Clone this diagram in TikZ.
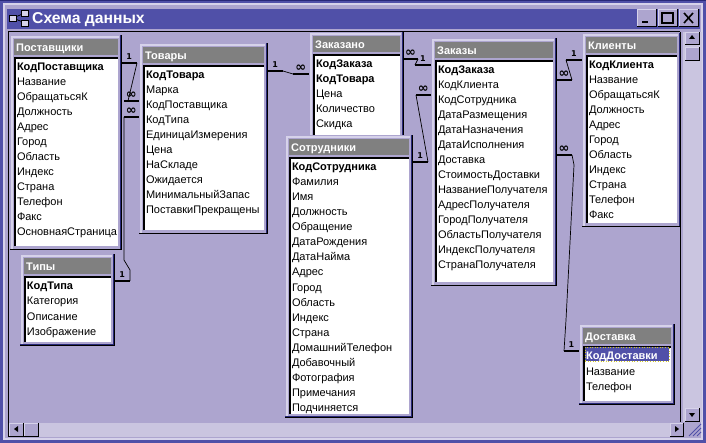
\documentclass[tikz,border=0pt]{standalone}
\usepackage{fontspec}
\setmainfont{Liberation Sans}
\newfontfamily\relfont{DejaVu Sans}
\usetikzlibrary{fit}
\definecolor{winblue}{HTML}{5050A8}
\definecolor{windark}{HTML}{282878}
\definecolor{body}{HTML}{ADA5CF}
\definecolor{edgelight}{HTML}{D6D2EA}
\definecolor{dither}{HTML}{CAC5E0}
\definecolor{headgrey}{HTML}{808080}
\tikzset{
  tableframe/.style={fill=body,inner sep=0pt,draw=none},
  tablehead/.style={fill=headgrey,inner sep=0pt,draw=none},
  tablelist/.style={fill=white,inner sep=0pt,draw=none},
  headtext/.style={anchor=base west,inner sep=0pt,text=white,font=\fontsize{11}{12}\selectfont\bfseries},
  rowtext/.style={anchor=base west,inner sep=0pt,text=black,font=\fontsize{11}{12}\selectfont},
  stub/.style={line width=2.2pt,black},
  link/.style={line width=0.7pt,black},
  endone/.style={above=2.5pt,inner sep=0pt,font=\relfont\fontsize{8}{9}\selectfont\bfseries},
  endmany/.style={above=1pt,inner sep=0pt,font=\relfont\fontsize{13}{14}\selectfont\bfseries},
  winbutton/.style={fill=body,inner sep=0pt,draw=none}
}
% one table: name, left, top, right, bottom, title, rows
\newcommand{\dbtable}[7]{
  \coordinate (#1-nw) at (#2,#3);
  \coordinate (#1-se) at (#4,#5);
  \node[tableframe,fit=(#1-nw)(#1-se)] (#1) {};
  \draw[edgelight,line width=1.5pt] (#2+2,#5-1) -- (#2+2,#3+2) -- (#4-2,#3+2);
  \draw[windark,line width=1pt] (#2,#5-0.5) -- (#4-0.5,#5-0.5) -- (#4-0.5,#3);
  \draw[black,line width=1pt] (#2,#5) -- (#4,#5) -- (#4,#3);
  \coordinate (#1-hnw) at (#2+4,#3+4);
  \coordinate (#1-hse) at (#4-3,#3+20);
  \node[tablehead,fit=(#1-hnw)(#1-hse)] (#1-head) {};
  \node[headtext] (#1-title) at (#2+6,#3+16.5) {#6};
  \coordinate (#1-lnw) at (#2+5,#3+23);
  \coordinate (#1-lse) at (#4-3.5,#5-3.5);
  \node[tablelist,fit=(#1-lnw)(#1-lse)] (#1-list) {};
  \draw[black,line width=1.5pt] (#2+5,#5-3.5) -- (#2+5,#3+23) -- (#4-3.5,#3+23);
  \foreach \row [count=\i] in {#7}
    \node[rowtext] (#1-\i) at (#2+6.8,#3+36+15*\i-15) {\row};
}
\newcommand{\scrollbutton}[5]{
  \coordinate (#1-nw) at (#2,#3);
  \coordinate (#1-se) at (#4,#5);
  \node[winbutton,fit=(#1-nw)(#1-se)] (#1) {};
  \draw[edgelight,line width=0.8pt] (#2+0.5,#5) -- (#2+0.5,#3+0.5) -- (#4,#3+0.5);
  \draw[black,line width=1pt] (#2,#5) -- (#4,#5) -- (#4,#3);
}
\begin{document}
\begin{tikzpicture}[x=1pt,y=-1pt]
\useasboundingbox (0,0) rectangle (706,443);
% window
\fill[winblue] (0,0) rectangle (706,443);
\fill[windark] (0,0) rectangle (706,1);
\fill[edgelight] (3,3) rectangle (703,440);
\fill[body] (5,5) rectangle (701,438);
\coordinate (bar-nw) at (7,9);
\coordinate (bar-se) at (700,29);
\node[fill=winblue,inner sep=0pt,fit=(bar-nw)(bar-se)] (bar) {};
\fill[body] (8,32) rectangle (680,436);
% title bar
\foreach \bx/\by [count=\i] in {13/18,25/13,25/23}
  \node[draw=black,fill=edgelight,line width=0.8pt,minimum width=7pt,minimum height=6pt,inner sep=0pt] (icon-\i) at (\bx,\by) {};
\draw[black,line width=0.7pt] (icon-1) -- (icon-2);
\draw[black,line width=0.7pt] (icon-1) -- (icon-3);
\node[anchor=base west,inner sep=0pt,text=white,font=\fontsize{15.7}{17}\selectfont\bfseries] (wintitle) at (32,23.5) {Схема данных};
\scrollbutton{btnmin}{637}{9}{656}{27}
\scrollbutton{btnmax}{658}{9}{677}{27}
\scrollbutton{btnclose}{679}{9}{698}{27}
\draw[black,line width=1.6pt] (642,22) -- (648,22);
\draw[black,line width=1.2pt] (662,13) rectangle (673,23);
\draw[black,line width=1.6pt] (684,13) -- (693,23) (693,13) -- (684,23);
% scroll bars
\fill[dither] (683,32) rectangle (702,422);
\fill[dither] (38,423) rectangle (683,437);
\draw[black,line width=1pt] (8,436) -- (8,32) -- (680,32);
\draw[black,line width=1pt] (680,32) -- (680,422);
\draw[black,line width=1pt] (8,436.5) -- (38,436.5);
\scrollbutton{btnup}{685}{32}{699}{45}
\scrollbutton{thumbv}{685}{47}{699}{61}
\scrollbutton{btndown}{685}{408}{699}{421}
\scrollbutton{btnleft}{9}{423}{23}{436}
\scrollbutton{thumbh}{24}{423}{38}{436}
\scrollbutton{btnright}{670}{423}{683}{436}
\fill[black] (692,35) -- (689,39) -- (695,39) -- cycle;
\fill[black] (692,417) -- (689,413) -- (695,413) -- cycle;
\fill[black] (14,429) -- (18,426) -- (18,432) -- cycle;
\fill[black] (679,429) -- (675,426) -- (675,432) -- cycle;
\draw[winblue,line width=0.8pt] (689,436) -- (701,424) (693,436) -- (701,428) (697,436) -- (701,432);
% tables
\dbtable{postav}{10}{35}{121}{250}{Поставщики}{\textbf{КодПоставщика},Название,ОбращатьсяК,Должность,Адрес,Город,Область,Индекс,Страна,Телефон,Факс,ОсновнаяСтраница}
\dbtable{tipy}{20}{254}{114}{345}{Типы}{\textbf{КодТипа},Категория,Описание,Изображение}
\dbtable{tovar}{139}{43}{267}{234}{Товары}{\textbf{КодТовара},Марка,КодПоставщика,КодТипа,ЕдиницаИзмерения,Цена,НаСкладе,Ожидается,МинимальныйЗапас,ПоставкиПрекращены}
\dbtable{zakazano}{309}{32}{403}{200}{Заказано}{\textbf{КодЗаказа},\textbf{КодТовара},Цена,Количество,Скидка}
\dbtable{sotrud}{285}{135}{412}{417}{Сотрудники}{\textbf{КодСотрудника},Фамилия,Имя,Должность,Обращение,ДатаРождения,ДатаНайма,Адрес,Город,Область,Индекс,Страна,ДомашнийТелефон,Добавочный,Фотография,Примечания,Подчиняется}
\dbtable{zakaz}{431}{38}{556}{286}{Заказы}{\textbf{КодЗаказа},КодКлиента,КодСотрудника,ДатаРазмещения,ДатаНазначения,ДатаИсполнения,Доставка,СтоимостьДоставки,НазваниеПолучателя,АдресПолучателя,ГородПолучателя,ОбластьПолучателя,ИндексПолучателя,СтранаПолучателя}
\dbtable{klient}{582}{33}{680}{227}{Клиенты}{\textbf{КодКлиента},Название,ОбращатьсяК,Должность,Адрес,Город,Область,Индекс,Страна,Телефон,Факс}
\dbtable{dostav}{579}{324}{674}{404}{Доставка}{,Название,Телефон}
% selected row
\coordinate (sel-nw) at (585,347);
\coordinate (sel-se) at (669,361);
\node[fill=winblue,draw=yellow!80!black,dotted,line width=0.6pt,inner sep=0pt,fit=(sel-nw)(sel-se)] (sel) {};
\node[rowtext,text=white] (dostav-key) at (586,359.5) {\textbf{КодДоставки}};
% links
\coordinate (a1) at (137,63);
\coordinate (a2) at (124,101);
\coordinate (a3) at (128,101);
\path[stub] (a1 -| postav.east) edge node[endone] {1} (a1);
\path[stub] (a2) edge node[endmany] {∞} (a2 -| tovar.west);
\draw[link] (a1) -- (a3);
\coordinate (b1) at (124,117);
\coordinate (b2) at (124,260);
\coordinate (b3) at (130,270);
\coordinate (b4) at (130,281);
\path[stub] (b1) edge node[endmany] {∞} (b1 -| tovar.west);
\path[stub] (b4 -| tipy.east) edge node[endone] {1} (b4);
\draw[link] (b1) -- (b2) -- (b3) -- (b4);
\coordinate (c1) at (283,71);
\coordinate (c2) at (293,74);
\path[stub] (c1 -| tovar.east) edge node[endone] {1} (c1);
\path[stub] (c2) edge node[endmany] {∞} (c2 -| zakazano.west);
\draw[link] (c1) -- (c2);
\coordinate (d1) at (418,59);
\coordinate (d2) at (415,65);
\path[stub] (d1 -| zakazano.east) edge node[endmany] {∞} (d1);
\path[stub] (d2) edge node[endone] {1} (d2 -| zakaz.west);
\draw[link] (d1) -- (d2);
\coordinate (e1) at (428,162);
\coordinate (e2) at (416,95);
\path[stub] (e1 -| sotrud.east) edge node[endone] {1} (e1);
\path[stub] (e2) edge node[endmany] {∞} (e2 -| zakaz.west);
\draw[link] (e1) -- (e2);
\coordinate (f1) at (566,60);
\coordinate (f2) at (572,80);
\path[stub] (f1) edge node[endone] {1} (f1 -| klient.west);
\path[stub] (f2 -| zakaz.east) edge node[endmany] {∞} (f2);
\draw[link] (f1) -- (f2);
\coordinate (g1) at (572,155);
\coordinate (g2) at (574,165);
\coordinate (g3) at (566,320);
\coordinate (g4) at (564,351);
\path[stub] (g1 -| zakaz.east) edge node[endmany] {∞} (g1);
\path[stub] (g4) edge node[endone] {1} (g4 -| dostav.west);
\draw[link] (g1) -- (g2) -- (g3) -- (g4);
\end{tikzpicture}
\end{document}
